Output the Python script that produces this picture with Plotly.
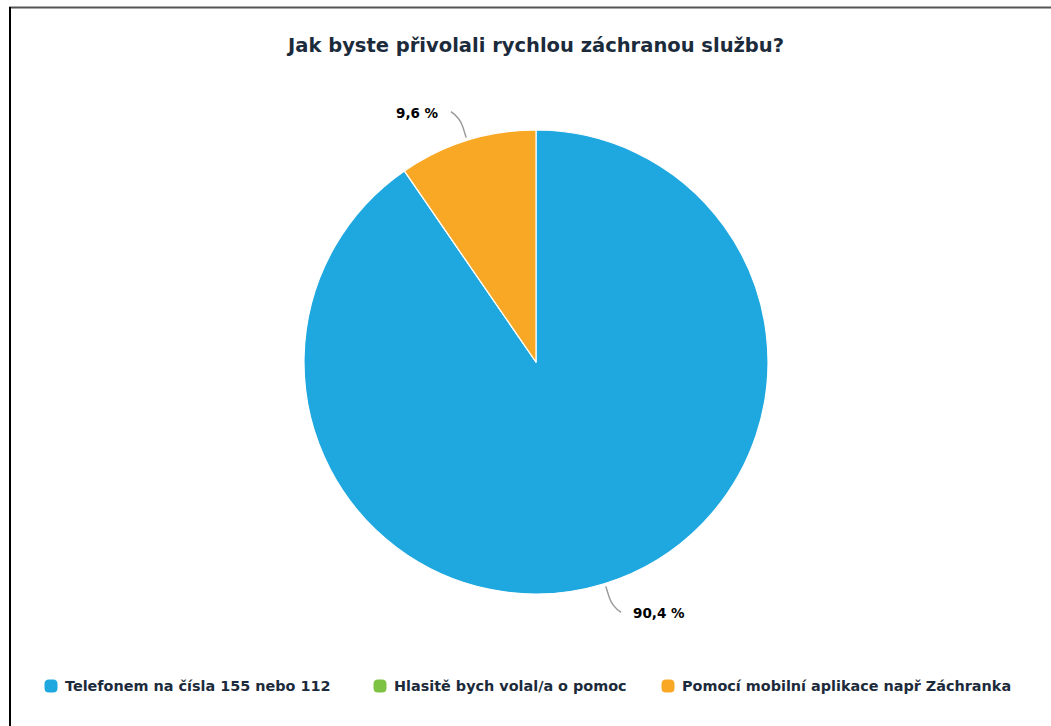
import math
import plotly.graph_objects as go

# Survey answers and their shares (%)
categories = [
    "Telefonem na čísla 155 nebo 112",
    "Hlasitě bych volal/a o pomoc",
    "Pomocí mobilní aplikace např Záchranka",
]
shares = [90.4, 0.0, 9.6]
colors = ["#1fa8e0", "#7dc242", "#f9a825"]
title_text = "Jak byste přivolali rychlou záchranou službu?"

# Canvas and pie geometry in pixels
W, H = 1051, 726
CX, CY, R = 536, 362, 232
FONT = "DejaVu Sans"
TEXT_DARK = "#1c2b3b"


def fx(x):
    return x / W


def fy(y):
    return 1 - y / H


fig = go.Figure()
fig.add_trace(go.Pie(
    labels=categories,
    values=shares,
    marker=dict(colors=colors, line=dict(color="white", width=1.2)),
    sort=False,
    direction="clockwise",
    rotation=0,
    textinfo="none",
    hoverinfo="label+percent",
    showlegend=False,
    domain=dict(x=[fx(CX - R), fx(CX + R)], y=[fy(CY + R), fy(CY - R)]),
))

shapes = []
annotations = []

# Percentage labels with curved connectors, placed from the slice mid-angles
total = sum(shares)
cum = 0.0
for cat, v in zip(categories, shares):
    if v <= 0:
        continue
    theta = 2 * math.pi * (cum + v / 2) / total
    cum += v
    s, c = math.sin(theta), -math.cos(theta)  # screen direction (y down)
    side = 1 if s >= 0 else -1
    vy = 1 if c >= 0 else -1
    p0 = (CX + (R + 3) * s, CY + (R + 3) * c)
    p1 = (CX + (R + 14) * s, CY + (R + 14) * c)
    pb = (CX + (R + 24) * s, CY + (R + 24) * c)
    pe = (pb[0] + side * 9, pb[1] + vy * 6)
    path = (f"M {fx(p0[0])},{fy(p0[1])} L {fx(p1[0])},{fy(p1[1])} "
            f"Q {fx(pb[0])},{fy(pb[1])} {fx(pe[0])},{fy(pe[1])}")
    shapes.append(dict(type="path", xref="paper", yref="paper", path=path,
                       line=dict(color="#9a9a9a", width=1.5)))
    label = f"{v:.1f}".replace(".", ",") + " %"
    annotations.append(dict(
        x=fx(pe[0] + side * 10), y=fy(pe[1] + 1), xref="paper", yref="paper",
        text=f"<b>{label}</b>", showarrow=False,
        xanchor="left" if side > 0 else "right", yanchor="middle",
        font=dict(family=FONT, size=13.5, color="#000000"),
    ))

# Legend row
legend_marker_x = [51, 380, 668]
legend_y = 686
for cx, cat, col in zip(legend_marker_x, categories, colors):
    h = 6.5
    rr = 4.5
    x0, x1, y0, y1 = cx - h, cx + h, legend_y - h, legend_y + h
    pts = [
        f"M {fx(x0 + rr)},{fy(y0)}",
        f"L {fx(x1 - rr)},{fy(y0)}",
        f"Q {fx(x1)},{fy(y0)} {fx(x1)},{fy(y0 + rr)}",
        f"L {fx(x1)},{fy(y1 - rr)}",
        f"Q {fx(x1)},{fy(y1)} {fx(x1 - rr)},{fy(y1)}",
        f"L {fx(x0 + rr)},{fy(y1)}",
        f"Q {fx(x0)},{fy(y1)} {fx(x0)},{fy(y1 - rr)}",
        f"L {fx(x0)},{fy(y0 + rr)}",
        f"Q {fx(x0)},{fy(y0)} {fx(x0 + rr)},{fy(y0)} Z",
    ]
    shapes.append(dict(type="path", xref="paper", yref="paper", path=" ".join(pts),
                       fillcolor=col, line=dict(width=0)))
    annotations.append(dict(
        x=fx(cx + 12), y=fy(legend_y), xref="paper", yref="paper",
        text=f"<b>{cat}</b>", showarrow=False, xanchor="left", yanchor="middle",
        font=dict(family=FONT, size=14.4, color=TEXT_DARK),
    ))

# Title
annotations.append(dict(
    x=fx(535), y=fy(45), xref="paper", yref="paper",
    text=f"<b>{title_text}</b>", showarrow=False, xanchor="center", yanchor="middle",
    font=dict(family=FONT, size=19.5, color=TEXT_DARK),
))

# Frame lines along the top and left edges
shapes.append(dict(type="line", xref="paper", yref="paper",
                   x0=fx(9), x1=fx(W), y0=fy(7.5), y1=fy(7.5),
                   line=dict(color="#555555", width=2)))
shapes.append(dict(type="line", xref="paper", yref="paper",
                   x0=fx(10), x1=fx(10), y0=fy(7), y1=fy(H),
                   line=dict(color="#000000", width=2)))

fig.update_layout(
    width=W, height=H,
    margin=dict(l=0, r=0, t=0, b=0),
    paper_bgcolor="white",
    plot_bgcolor="white",
    shapes=shapes,
    annotations=annotations,
    showlegend=False,
)

fig.write_html("out.html")
